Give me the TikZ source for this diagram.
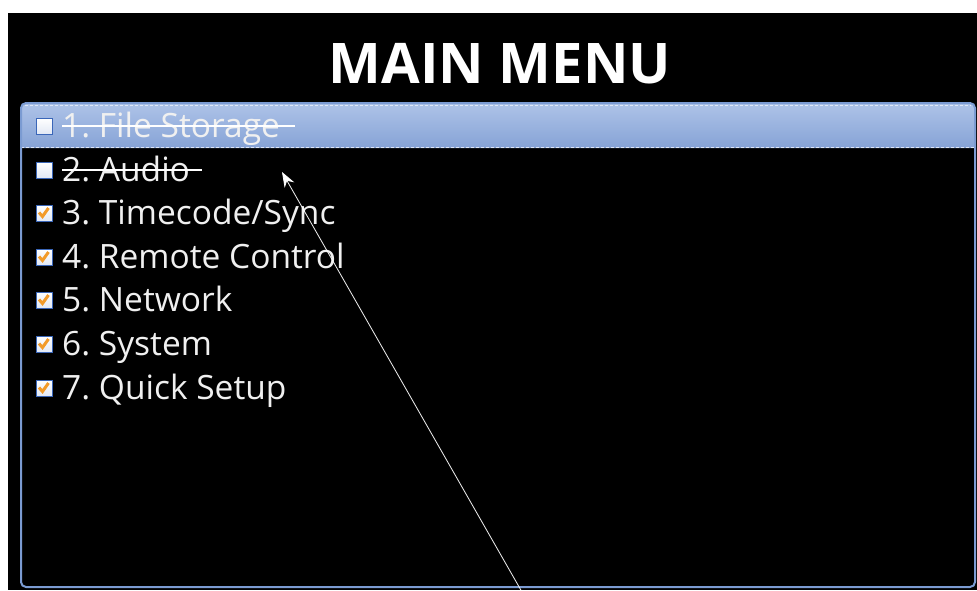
\documentclass[tikz,border=0pt]{standalone}
\usepackage{fontspec}
\setmainfont{Open Sans}
\usetikzlibrary{arrows.meta}
\definecolor{panelblue}{HTML}{7B9BD2}
\definecolor{bartop}{HTML}{AEC3E8}
\definecolor{barbot}{HTML}{86A3D6}
\definecolor{boxblue}{HTML}{3A66B8}
\definecolor{tickorange}{HTML}{F29B2A}
\frenchspacing

\begin{document}
\begin{tikzpicture}[x=1pt,y=-1pt,
  chk/.style={draw=boxblue, line width=1pt, top color=white, bottom color=white!85!boxblue, minimum size=16pt, inner sep=0pt},
  item/.style={anchor=base west, inner sep=0pt, text=white!94!black, font=\fontsize{33.5}{38}\selectfont},
  strike/.style={white, line width=2pt},
  tick/.style={tickorange, line width=3pt}]
\useasboundingbox (0,0) rectangle (977,590);
\fill[black] (8,13) rectangle (977,590);
\node[text=white, font=\fontsize{56}{60}\selectfont\bfseries] (title) at (500,64) {MAIN MENU};
\shade[top color=bartop, bottom color=barbot] (21,148) [rounded corners=5pt] -- (21,103) -- (975,103) [sharp corners] -- (975,148) -- cycle;
\draw[white!60!bartop, densely dashed, line width=0.8pt] (25,105.5) -- (971,105.5) (21,147) -- (975,147);
\draw[panelblue, line width=2pt, rounded corners=5pt] (21,103) rectangle (975,587);
\foreach \i/\y/\lbl in {1/126/{1. File Storage}, 2/170/{2. Audio}, 3/213/{3. Timecode/Sync},
    4/257/{4. Remote Control}, 5/300/{5. Network}, 6/344/{6. System}, 7/388/{7. Quick Setup}}{
  \node[chk] (b\i) at (44,\y) {};
  \node[item] (t\i) at (62,\y+11) {\lbl};
}
\foreach \i in {3,...,7}
  \draw[tick] ([shift={(-5,-0.5)}]b\i.center) -- ++(3.5,4) -- ++(6,-8.5);
\draw[strike] (t1.west |- b1) -- ([xshift=15pt]t1.east |- b1);
\draw[strike] (t2.west |- b2) -- ([xshift=12pt]t2.east |- b2);
\coordinate (tail) at (522,592);
\coordinate (tip) at (282,172);
\draw[white, line width=0.8pt, -{Stealth[length=15pt,width=11pt]}] (tail) -- (tip);
\end{tikzpicture}
\end{document}
